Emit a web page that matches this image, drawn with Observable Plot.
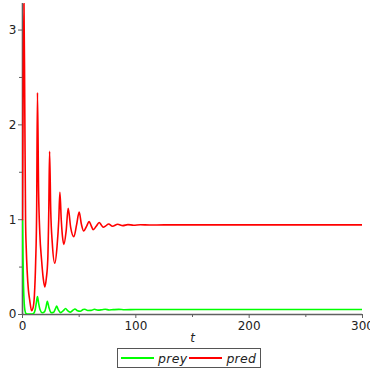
<!DOCTYPE html>
<html><head><meta charset="utf-8">
<script src="https://cdn.jsdelivr.net/npm/d3@7"></script>
<script src="https://cdn.jsdelivr.net/npm/@observablehq/plot@0.6"></script>
<style>
html,body{margin:0;padding:0;background:#fff;font-family:"DejaVu Sans",sans-serif;width:370px;height:370px;overflow:hidden}
#legend{display:flex;align-items:center;border:1.5px solid #555;width:fit-content;margin:2px 0 0 117px;height:20px;padding:0 2px 0 3px;box-sizing:border-box}
#legend .sw{display:inline-block;width:33px;height:2px;margin-right:4px}
#legend .lb{font-style:italic;font-size:12.5px;color:#222;margin-right:2px;letter-spacing:0.3px}
</style></head><body><div id="chart"></div><div id="legend"></div>
<script>
const seriesNames = ["prey", "pred"];
const seriesColors = ["#00ff00", "#ff0000"];
const xMajorTicks = [0, 100, 200, 300];
const xMinorTicks = [50, 150, 250];
const yMajorTicks = [0, 1, 2, 3];
const yMinorTicks = [0.5, 1.5, 2.5];
const xLabel = "t";

const preyT = [0,0.4,0.9,1.5,2.2,3,5,8,9.8,11.2,12.3,13.2,14.2,15.5,17.5,19.5,20.8,21.9,23.2,25.3,27.5,29,30.2,31.6,33.6,36,38,39.8,42,44.5,46.3,48.5,51,53.5,55,57.5,60.5,63.5,66.5,70,73,76.5,80,85,90,100,300];
const preyV = [1.0,0.6,0.3,0.12,0.04,0.012,0.004,0.004,0.012,0.05,0.13,0.19,0.12,0.05,0.018,0.03,0.08,0.14,0.08,0.02,0.025,0.06,0.088,0.05,0.02,0.04,0.064,0.04,0.025,0.045,0.058,0.04,0.035,0.052,0.055,0.042,0.043,0.055,0.046,0.05,0.055,0.048,0.051,0.054,0.05,0.052,0.052];

const predT = [0,0.6,1.3,2.0,2.7,3.3,4.1,5.2,6.4,8,9.3,10.5,11.6,12.5,13.2,14.2,15.3,16.8,18.3,19.7,21,22.3,23.2,23.9,24.9,26.3,28.5,30.5,32,33,34.2,35.3,36.5,38.5,40.3,42.5,45.3,47.8,50,52,54,56.5,58.8,60.5,62.4,65,67.7,69.5,71.2,73.5,76,79.4,84,88.5,93,98,104,112,125,300];
const predV = [1.0,2.5,3.28,2.2,1.0,0.7,0.46,0.26,0.15,0.04,0.07,0.2,0.55,1.1,2.34,1.3,0.85,0.58,0.38,0.29,0.38,0.58,1.1,1.72,1.1,0.75,0.54,0.72,1.0,1.29,1.0,0.82,0.74,0.88,1.12,0.92,0.82,0.95,1.08,0.95,0.88,0.93,0.98,0.94,0.895,0.93,0.97,0.945,0.92,0.935,0.955,0.93,0.952,0.937,0.948,0.942,0.946,0.944,0.945,0.945];

const prey = preyT.map((t, i) => ({t, v: preyV[i]}));
const pred = predT.map((t, i) => ({t, v: predV[i]}));

const axisColor = "#606060";
const chart = Plot.plot({
  width: 370, height: 346,
  marginLeft: 22, marginRight: 8, marginTop: 3, marginBottom: 32,
  style: {fontFamily: "DejaVu Sans", fontSize: "12px", background: "white", color: "#222"},
  x: {domain: [0, 300]},
  y: {domain: [0, 3.28]},
  marks: [
    Plot.axisX(xMajorTicks, {tickSize: 4, tickPadding: 3, tickFormat: d => String(d), label: null, stroke: axisColor}),
    Plot.axisX(xMinorTicks, {tickSize: 3, tickFormat: () => "", label: null, stroke: axisColor}),
    Plot.axisY(yMajorTicks, {tickSize: 4, tickPadding: 2, tickFormat: d => String(d), label: null, stroke: axisColor}),
    Plot.axisY(yMinorTicks, {tickSize: 3, tickFormat: () => "", label: null, stroke: axisColor}),
    Plot.ruleY([0], {stroke: axisColor, strokeWidth: 1.6}),
    Plot.ruleX([0], {stroke: axisColor, strokeWidth: 1.6}),
    Plot.line(prey, {x: "t", y: "v", stroke: seriesColors[0], strokeWidth: 1.6, curve: "monotone-x", clip: true}),
    Plot.line(pred, {x: "t", y: "v", stroke: seriesColors[1], strokeWidth: 1.6, curve: "monotone-x", clip: true}),
    Plot.text([xLabel], {frameAnchor: "bottom", dy: 27, fontStyle: "italic", fontSize: 12})
  ]
});
document.getElementById("chart").appendChild(chart);

const legend = document.getElementById("legend");
seriesNames.forEach((n, i) => {
  const sw = document.createElement("span");
  sw.className = "sw"; sw.style.background = seriesColors[i];
  const lb = document.createElement("span");
  lb.className = "lb"; lb.textContent = n;
  legend.appendChild(sw); legend.appendChild(lb);
});
</script></body></html>
